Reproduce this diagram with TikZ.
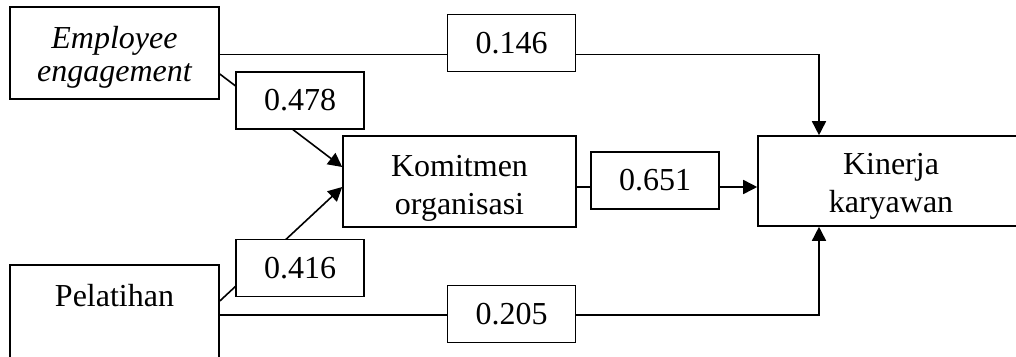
\documentclass[tikz,border=0pt]{standalone}
\usepackage{fontspec}
\setmainfont{Liberation Serif}
\usetikzlibrary{arrows.meta}
\begin{document}
\begin{tikzpicture}[x=1pt,y=-1pt,
  box/.style={draw,line width=1.6pt,inner sep=0pt,fill=white},
  coef/.style={box,minimum width=128pt,minimum height=57pt,font=\fontsize{32}{38}\selectfont},
  txt/.style={align=center,inner sep=0pt,font=\fontsize{32}{38}\selectfont},
  conn/.style={line width=1.6pt},
  arr/.style={conn,-{Triangle[length=14pt,width=14pt]}}]
\useasboundingbox (0,0) rectangle (1016,356);
\clip (0,0) rectangle (1016,356);

% variable boxes
\node[box,minimum width=209pt,minimum height=92pt] (ee) at (114.5,53) {};
\node[txt,font=\fontsize{32}{33}\selectfont\itshape] (eetext) at ([yshift=-4pt]ee.center) {Employee\\engagement};

\node[box,minimum width=233pt,minimum height=91pt] (kom) at (459.5,181.5) {};
\node[txt] (komtext) at ([yshift=-6.5pt]kom.center) {Komitmen\\organisasi};

\node[box,minimum width=266pt,minimum height=90pt] (kin) at (891,181) {};
\node[txt] (kintext) at ([yshift=-5.5pt]kin.center) {Kinerja\\karyawan};

\node[box,minimum width=209pt,minimum height=115pt] (pel) at (114.5,322.5) {};
\node[txt] (peltext) at ([yshift=-31pt]pel.north) {Pelatihan};

% paths
\coordinate (ctop) at (819,54.5);
\coordinate (cbot) at (819,315);
\coordinate (kout) at ([yshift=-5.5pt]kom.east);
\draw[arr] ([yshift=-1.5pt]ee.east) -- (ctop) -- (ctop |- kin.north);
\draw[arr] ([yshift=7.5pt]pel.east) -- (cbot) -- (cbot |- kin.south);
\draw[arr] ([yshift=-21pt]ee.east) -- ([yshift=14.5pt]kom.west);
\draw[arr] ([yshift=21.5pt]pel.east) -- ([yshift=-5.5pt]kom.west);
\draw[arr] (kout) -- (kout -| kin.west);

% path coefficients
\node[coef] (c146) at (511.5,43) {0.146};
\node[coef] (c478) at (300,100.5) {0.478};
\node[coef] (c416) at (300,268) {0.416};
\node[coef] (c651) at (655,180.5) {0.651};
\node[coef] (c205) at (511.5,314) {0.205};
\end{tikzpicture}
\end{document}
